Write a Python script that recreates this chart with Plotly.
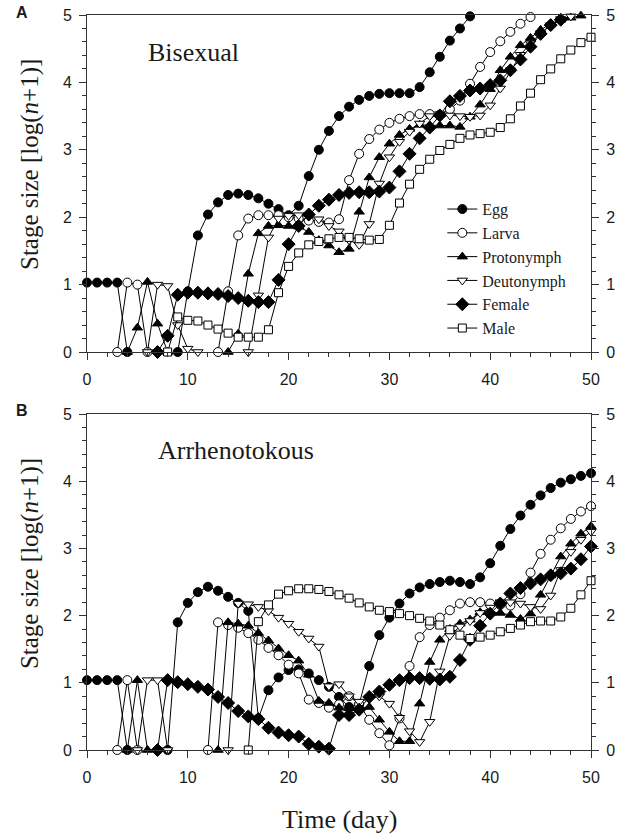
import plotly.graph_objects as go

N = 51
days = list(range(N))


def pad(start, vals):
    return [None] * start + list(vals) + [None] * (N - start - len(vals))


stages = ["Egg", "Larva", "Protonymph", "Deutonymph", "Female", "Male"]

# ---------------- Panel A: Bisexual ----------------
egg_a = pad(0, [1.03, 1.03, 1.03, 1.03, 0, None, None, None, None, 0, 0.9, 1.73, 2.04, 2.22, 2.33, 2.35,
                2.33, 2.28, 2.2, 2.12, 2.03, 2.17, 2.61, 3.0, 3.28, 3.5, 3.64, 3.74, 3.8, 3.83, 3.84,
                3.84, 3.84, 3.93, 4.15, 4.38, 4.62, 4.8, 4.98])
larva_a = pad(3, [0, 1.03, 1.0, 0, None, None, None, None, None, None, 0, 0.9, 1.73, 1.98, 2.03, 2.03,
                  2.03, 2.0, 1.98, 1.95, 1.93, 1.92, 1.97, 2.55, 2.94, 3.16, 3.3, 3.4, 3.46, 3.5, 3.53,
                  3.53, 3.52, 3.6, 3.73, 3.98, 4.23, 4.45, 4.61, 4.75, 4.87, 4.97])
proto_a = pad(4, [0, 0.36, 1.04, 0.42, 0, None, None, None, None, None, 0, 0.27, 1.16, 1.76, 1.87,
                  1.88, 1.87, 1.86, 1.78, 1.66, 1.58, 1.48, 1.53, 2.08, 2.59, 2.89, 3.09, 3.22, 3.31,
                  3.37, 3.36, 3.36, 3.36, 3.34, 3.49, 3.67, 3.9, 4.18, 4.38, 4.55, 4.66, 4.78, 4.87,
                  4.93, 4.96, 4.99])
deuto_a = pad(6, [0, 1.0, 0.98, 0.4, 0.05, 0, None, None, None, None, 0, 0.84, 1.7, 1.98, 2.02, 2.03,
                  2.01, 1.97, 1.87, 1.79, 1.66, 1.59, 1.9, 2.5, 2.89, 3.12, 3.27, 3.39, 3.5, 3.53, 3.51,
                  3.5, 3.49, 3.51, 3.66, 3.91, 4.18, 4.41, 4.58, 4.73, 4.85, 4.94, 4.98])
female_a = pad(7, [0, 0.24, 0.85, 0.88, 0.88, 0.87, 0.86, 0.83, 0.8, 0.76, 0.74, 0.74, 1.07, 1.6, 1.87,
                   2.04, 2.17, 2.26, 2.33, 2.36, 2.37, 2.37, 2.38, 2.44, 2.68, 2.94, 3.17, 3.33, 3.51,
                   3.72, 3.8, 3.88, 3.91, 3.96, 4.03, 4.18, 4.34, 4.53, 4.72, 4.85, 4.93])
male_a = pad(8, [0, 0.52, 0.47, 0.46, 0.4, 0.34, 0.28, 0.22, 0.22, 0.22, 0.33, 0.88, 1.27, 1.47, 1.59,
                 1.64, 1.68, 1.7, 1.7, 1.68, 1.66, 1.67, 1.88, 2.21, 2.49, 2.71, 2.86, 2.99, 3.08, 3.17,
                 3.22, 3.24, 3.26, 3.33, 3.46, 3.65, 3.84, 4.04, 4.2, 4.35, 4.48, 4.59, 4.67])

# ---------------- Panel B: Arrhenotokous ----------------
egg_b = pad(0, [1.04, 1.04, 1.04, 1.04, 0, None, None, None, 0, 1.9, 2.19, 2.35, 2.43, 2.37, 2.28, 2.19,
                2.07, 0.47, 0.89, 1.08, 1.19, 1.2, 1.14, 1.04, 0.94, 0.79, 0.64, 0.68, 1.25, 1.71, 1.97,
                2.18, 2.33, 2.42, 2.47, 2.5, 2.52, 2.5, 2.47, 2.57, 2.78, 3.04, 3.29, 3.49, 3.65, 3.79,
                3.9, 3.98, 4.03, 4.08, 4.12])
larva_b = pad(3, [0, 1.04, 0, None, None, None, None, None, None, 0, 1.9, 1.86, 1.82, 1.74, 1.64, 1.52,
                  1.41, 1.27, 1.14, 0.75, 0.7, 0.63, 0.68, 0.8, 0.68, 0.45, 0.25, 0.07, 0.47, 1.25, 1.68,
                  1.86, 1.97, 2.08, 2.18, 2.2, 2.2, 2.18, 2.16, 2.15, 2.32, 2.64, 2.92, 3.13, 3.3, 3.44,
                  3.55, 3.63])
proto_b = pad(4, [0, 1.04, 0, None, None, None, None, None, None, 0, 1.9, 1.88, 1.85, 1.74, 1.63, 1.51,
                  1.41, 1.33, 1.12, 0.73, 0.7, 0.63, 0.62, 0.63, 0.64, 0.45, 0.27, 0.13, 0.13, 0.69,
                  1.31, 1.64, 1.8, 1.88, 1.94, 2.05, 2.06, 2.04, 2.01, 1.95, 2.03, 2.31, 2.6, 2.88, 3.07,
                  3.22, 3.33])
deuto_b = pad(5, [0, 1.04, 1.04, 0, None, None, None, None, None, 0, 2.18, 2.17, 2.13, 2.07, 1.97, 1.88,
                  1.76, 1.66, 1.54, 0.95, 0.98, 0.8, 0.72, 0.76, 0.8, 0.69, 0.48, 0.28, 0.12, 0.42, 1.17,
                  1.7, 1.84, 1.92, 2.04, 2.12, 2.2, 2.2, 2.18, 2.13, 2.1, 2.3, 2.68, 2.95, 3.13, 3.25])
female_b = pad(7, [0, 1.04, 1.01, 0.98, 0.94, 0.9, 0.79, 0.7, 0.58, 0.5, 0.46, 0.33, 0.26, 0.22, 0.2,
                   0.09, 0.05, 0.02, 0.52, 0.52, 0.6, 0.79, 0.87, 0.97, 1.04, 1.07, 1.07, 1.06, 1.05,
                   1.09, 1.34, 1.64, 1.85, 2.03, 2.18, 2.33, 2.41, 2.48, 2.54, 2.6, 2.63, 2.7, 2.84, 3.03])
male_b = pad(16, [0, 1.91, 2.16, 2.32, 2.37, 2.4, 2.4, 2.39, 2.36, 2.31, 2.26, 2.19, 2.13, 2.08, 2.06,
                  2.03, 2.0, 1.96, 1.92, 1.86, 1.79, 1.71, 1.66, 1.68, 1.71, 1.76, 1.81, 1.86, 1.91, 1.92,
                  1.92, 1.98, 2.11, 2.31, 2.52])

panel_a = [egg_a, larva_a, proto_a, deuto_a, female_a, male_a]
panel_b = [egg_b, larva_b, proto_b, deuto_b, female_b, male_b]

symbols = ["circle", "circle", "triangle-up", "triangle-down", "diamond", "square"]
fills = ["black", "white", "black", "white", "black", "white"]
sizes = [9, 9, 9, 9, 10, 8]

fig = go.Figure()
for panel, (xa, ya) in ((panel_a, ("x", "y")), (panel_b, ("x2", "y2"))):
    for i, name in enumerate(stages):
        fig.add_trace(go.Scatter(
            x=days, y=panel[i], name=name, mode="lines+markers",
            xaxis=xa, yaxis=ya, cliponaxis=False, connectgaps=False,
            line=dict(color="black", width=1),
            marker=dict(symbol=symbols[i], size=sizes[i], color=fills[i],
                        line=dict(color="black", width=1)),
            showlegend=(xa == "x"), hoverinfo="skip"))

# invisible traces so the right-hand mirrored axes with labels are drawn
fig.add_trace(go.Scatter(x=days, y=egg_a, xaxis="x", yaxis="y3", mode="lines",
                         line=dict(width=0, color="rgba(0,0,0,0)"), showlegend=False, hoverinfo="skip"))
fig.add_trace(go.Scatter(x=days, y=egg_b, xaxis="x2", yaxis="y4", mode="lines",
                         line=dict(width=0, color="rgba(0,0,0,0)"), showlegend=False, hoverinfo="skip"))

tickfont = dict(family="Liberation Sans, Arial, sans-serif", size=16, color="#1a1a1a")
serif = "Liberation Serif, Times New Roman, serif"
ink = "#1a1a1a"

xcommon = dict(range=[0, 50], showgrid=False, zeroline=False, showline=True, linecolor="#333",
               linewidth=1, mirror=True, ticks="outside", ticklen=7, tickcolor="#333",
               tickvals=[0, 10, 20, 30, 40, 50], tickfont=tickfont, ticklabelstandoff=6,
               automargin=False, ticklabeloverflow="allow",
               minor=dict(ticks="outside", tickvals=list(range(0, 51, 2)), ticklen=4, tickcolor="#333"))
ycommon = dict(range=[0, 5], showgrid=False, zeroline=False, showline=True, linecolor="#333",
               linewidth=1, ticks="outside", ticklen=7, tickcolor="#333",
               tickvals=[0, 1, 2, 3, 4, 5], tickfont=tickfont, ticklabelstandoff=4,
               automargin=False, ticklabeloverflow="allow",
               minor=dict(ticks="outside", tickvals=[i / 5 for i in range(26)], ticklen=4,
                          tickcolor="#333"))

fig.update_layout(
    width=627, height=838, plot_bgcolor="white", paper_bgcolor="white",
    margin=dict(l=87, r=36, t=15, b=88),
    xaxis=dict(domain=[0, 1], anchor="y", **xcommon),
    yaxis=dict(domain=[0.5415, 1], anchor="x", **ycommon),
    xaxis2=dict(domain=[0, 1], anchor="y2", **xcommon),
    yaxis2=dict(domain=[0, 0.457], anchor="x2", **ycommon),
    yaxis3=dict(overlaying="y", side="right", anchor="x", **ycommon),
    yaxis4=dict(overlaying="y2", side="right", anchor="x2", **ycommon),
    legend=dict(x=0.705, y=0.759, xanchor="left", yanchor="top", bgcolor="rgba(0,0,0,0)",
                font=dict(family=serif, size=16, color=ink), itemwidth=30,
                tracegroupgap=0),
    showlegend=True,
    annotations=[
        dict(text="Stage size [log(<i>n</i>+1)]", x=-0.113, y=0.796, xref="paper", yref="paper",
             xanchor="center", yanchor="middle", textangle=-90, showarrow=False,
             font=dict(family=serif, size=25, color=ink)),
        dict(text="Stage size [log(<i>n</i>+1)]", x=-0.113, y=0.253, xref="paper", yref="paper",
             xanchor="center", yanchor="middle", textangle=-90, showarrow=False,
             font=dict(family=serif, size=25, color=ink)),
        dict(text="Time (day)", x=0.5, y=-0.0952, xref="paper", yref="paper", showarrow=False,
             xanchor="center", yanchor="middle", font=dict(family=serif, size=26, color=ink)),
        dict(text="Bisexual", x=10.6, y=4.44, xref="x", yref="y", showarrow=False,
             xanchor="center", yanchor="middle", font=dict(family=serif, size=26, color=ink)),
        dict(text="Arrhenotokous", x=14.8, y=4.46, xref="x2", yref="y2", showarrow=False,
             xanchor="center", yanchor="middle", font=dict(family=serif, size=26, color=ink)),
        dict(text="<b>A</b>", x=-0.145, y=1.004, xref="paper", yref="paper", xanchor="left",
             yanchor="middle", showarrow=False,
             font=dict(family="Liberation Sans, Arial, sans-serif", size=16, color=ink)),
        dict(text="<b>B</b>", x=-0.145, y=0.462, xref="paper", yref="paper", xanchor="left",
             yanchor="middle", showarrow=False,
             font=dict(family="Liberation Sans, Arial, sans-serif", size=16, color=ink)),
    ],
)

# remove the browser's default 8px body margin so the figure sits at the page corner
fig.write_html("out.html", config={"displayModeBar": False},
               post_script="document.body.style.margin='0px';")
